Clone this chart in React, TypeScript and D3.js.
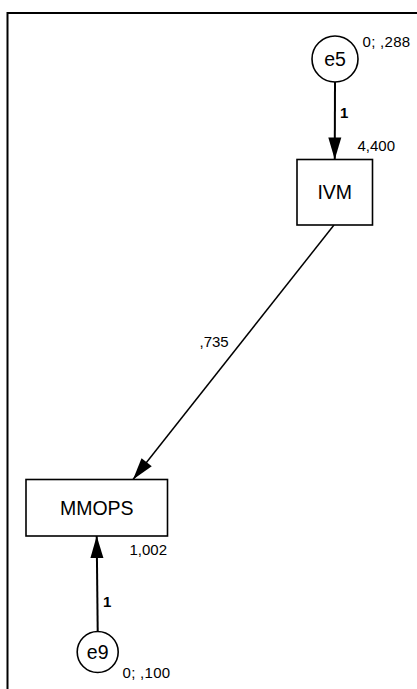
import React from "react";
import * as d3 from "d3";

// ---- Data ----
const observed = ["IVM", "MMOPS"];
const observedIntercepts = ["4,400", "1,002"];
const errors = ["e5", "e9"];
const errorLabels = ["0; ,288", "0; ,100"];
const errorTargets = ["IVM", "MMOPS"];
const errorWeights = ["1", "1"];
const pathFrom = ["IVM"];
const pathTo = ["MMOPS"];
const pathWeights = [",735"];

// ---- Layout (positions kept separate from data) ----
const boxLayout: Record<string, { x: number; y: number; w: number; h: number; lx: number; ly: number }> = {
  IVM: { x: 297, y: 159.5, w: 75.5, h: 65.5, lx: 357.5, ly: 151 },
  MMOPS: { x: 26, y: 479.5, w: 141.5, h: 56.5, lx: 129.5, ly: 555 },
};
const errLayout: Record<string, { cx: number; cy: number; r: number; lx: number; ly: number; wx: number; wy: number }> = {
  e5: { cx: 335, cy: 59, r: 23, lx: 362.5, ly: 46.5, wx: 340, wy: 118 },
  e9: { cx: 97.7, cy: 652, r: 20.5, lx: 122.5, ly: 677.5, wx: 103, wy: 607 },
};
const pathLayout = [{ x1: 334, y1: 225, x2: 133, y2: 479.5, lx: 199.5, ly: 346.5 }];

const FONT = "'Liberation Sans', Arial, Helvetica, sans-serif";
const SMALL = 15;
const LS = 0.3;

function arrowHead(x1: number, y1: number, x2: number, y2: number, len: number, half: number) {
  const a = Math.atan2(y2 - y1, x2 - x1);
  const bx = x2 - len * Math.cos(a);
  const by = y2 - len * Math.sin(a);
  const px = -Math.sin(a) * half;
  const py = Math.cos(a) * half;
  const p = d3.path();
  p.moveTo(x2, y2);
  p.lineTo(bx + px, by + py);
  p.lineTo(bx - px, by - py);
  p.closePath();
  return p.toString();
}

export default function App() {
  const line = d3.line<[number, number]>();
  return (
    <svg
      width={417}
      height={689}
      style={{ position: "absolute", left: 0, top: 0, background: "#fff" }}
      fontFamily={FONT}
    >
      <rect x={7.5} y={13} width={600} height={900} fill="none" stroke="#000" strokeWidth={2} />

      {/* error -> observed arrows */}
      {errors.map((e, i) => {
        const el = errLayout[e];
        const b = boxLayout[errorTargets[i]];
        const bcx = b.x + b.w / 2;
        const goingDown = b.y > el.cy;
        const tx = e === "e9" ? 96.7 : bcx;
        const ty = goingDown ? b.y : b.y + b.h;
        const sy = goingDown ? el.cy + el.r : el.cy - el.r;
        const sx = el.cx;
        return (
          <g key={e}>
            <path d={line([[sx, sy], [tx, ty]]) || ""} stroke="#000" strokeWidth={2} fill="none" />
            <path d={arrowHead(sx, sy, tx, ty, 22, 6.5)} fill="#000" />
            <circle cx={el.cx} cy={el.cy} r={el.r} fill="#fff" stroke="#000" strokeWidth={1.6} />
            <text x={el.cx} y={el.cy + 7} textAnchor="middle" fontSize={19.5}>{e}</text>
            <text x={el.lx} y={el.ly} fontSize={SMALL} letterSpacing={LS}>{errorLabels[i]}</text>
            <text x={el.wx} y={el.wy} fontSize={15} fontWeight="bold">{errorWeights[i]}</text>
          </g>
        );
      })}

      {/* structural paths */}
      {pathFrom.map((f, i) => {
        const p = pathLayout[i];
        return (
          <g key={f + pathTo[i]}>
            <path d={line([[p.x1, p.y1], [p.x2, p.y2]]) || ""} stroke="#000" strokeWidth={1.5} fill="none" />
            <path d={arrowHead(p.x1, p.y1, p.x2, p.y2, 22, 6.5)} fill="#000" />
            <text x={p.lx} y={p.ly} fontSize={SMALL} letterSpacing={0}>{pathWeights[i]}</text>
          </g>
        );
      })}

      {/* observed boxes */}
      {observed.map((o, i) => {
        const b = boxLayout[o];
        return (
          <g key={o}>
            <rect x={b.x} y={b.y} width={b.w} height={b.h} fill="#fff" stroke="#000" strokeWidth={1.6} />
            <text x={b.x + b.w / 2} y={b.y + b.h / 2 + 7} textAnchor="middle" fontSize={19.5}>{o}</text>
            <text x={b.lx} y={b.ly} fontSize={SMALL} letterSpacing={0}>{observedIntercepts[i]}</text>
          </g>
        );
      })}
    </svg>
  );
}
